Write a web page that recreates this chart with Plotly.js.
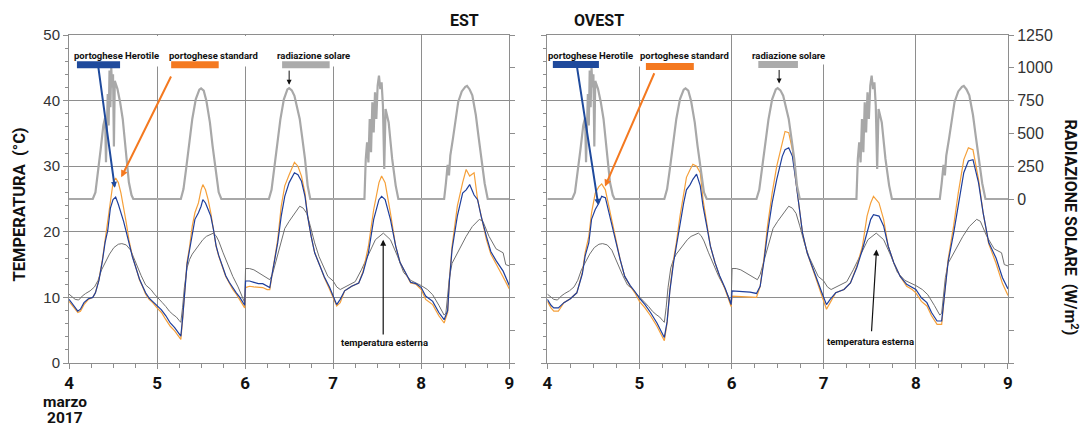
<!DOCTYPE html>
<html>
<head>
<meta charset="utf-8">
<script src="https://cdn.plot.ly/plotly-3.0.1.min.js"></script>
<style>
  html, body { margin: 0; padding: 0; background: #ffffff; }
  #chart { width: 1083px; height: 427px; }
</style>
</head>
<body>
<div id="chart"></div>
<script>
// ---------- DATA ----------
const dayTicks = [4, 5, 6, 7, 8, 9];
const dayLabels = ['4', '5', '6', '7', '8', '9'];
const tempTicks = [0, 10, 20, 30, 40, 50];
const radTicks = [-1250, -1000, -750, -500, -250, 0, 250, 500, 750, 1000, 1250];
const radLabels = ['', '', '', '', '', '0', '250', '500', '750', '1000', '1250'];

// solar radiation (W/m2), same measurement for both panels
const radDays = [4.00,4.27,4.30,4.33,4.36,4.39,4.41,4.42,4.43,4.44,4.45,4.46,4.47,4.48,4.49,4.50,4.51,4.52,4.55,4.58,4.61,4.63,4.65,4.68,4.71,4.73,
  5.27,5.30,5.33,5.37,5.40,5.44,5.48,5.50,5.53,5.56,5.60,5.63,5.67,5.70,5.73,
  6.27,6.30,6.33,6.37,6.40,6.44,6.48,6.50,6.53,6.56,6.59,6.62,6.65,6.68,6.71,6.74,
  7.355,7.37,7.385,7.40,7.415,7.43,7.445,7.46,7.475,7.49,7.505,7.52,7.535,7.55,7.565,7.58,7.595,7.63,7.67,7.71,7.74,
  8.26,8.28,8.30,8.315,8.33,8.36,8.39,8.42,8.46,8.50,8.52,8.55,8.58,8.62,8.65,8.69,8.72,8.755,9.00];
const radiation = [0,0,50,200,380,560,620,280,650,800,560,980,700,1000,850,950,400,900,840,740,610,480,356,127,30,0,
  0,76,229,432,610,762,833,843,826,749,584,406,203,51,0,
  0,70,225,430,605,760,835,845,828,787,700,610,460,305,102,0,
  0,305,432,279,610,356,737,508,813,610,864,940,838,889,711,229,686,584,305,102,0,
  0,120,260,180,330,460,620,740,820,855,862,835,790,640,480,290,120,0,0];

// outside temperature (°C), same for both panels
const extDays = [4.00,4.03,4.07,4.11,4.15,4.19,4.24,4.29,4.33,4.37,4.41,4.46,4.51,4.56,4.60,4.65,4.70,4.73,4.76,4.82,4.87,4.93,4.97,
  5.00,5.06,5.10,5.14,5.18,5.22,5.25,5.27,5.29,5.31,5.34,5.37,5.40,5.44,5.48,5.52,5.56,5.60,5.64,5.67,5.70,5.75,5.81,5.86,5.92,5.96,5.995,
  6.005,6.05,6.10,6.15,6.20,6.25,6.28,6.31,6.35,6.40,6.45,6.50,6.56,6.62,6.66,6.70,6.74,6.79,6.84,6.89,6.94,
  7.00,7.04,7.08,7.15,7.25,7.32,7.40,7.48,7.57,7.65,7.73,7.80,7.88,7.95,
  8.00,8.07,8.13,8.20,8.26,8.28,8.32,8.35,8.43,8.51,8.58,8.66,8.70,8.77,8.85,8.93,8.96,9.00];
const extTemp = [10.5,10.2,9.7,9.6,10.2,10.6,11.0,11.6,12.6,14.2,15.3,16.6,17.6,18.1,18.2,18.0,17.2,16.2,15.2,13.3,11.9,11.2,10.5,
  10.1,9.2,8.6,7.9,7.4,7.0,6.5,6.2,8.5,11.5,14.5,15.8,16.6,17.4,18.2,18.8,19.3,19.6,19.8,19.4,18.6,16.8,14.8,13.2,11.6,10.2,9.2,
  14.4,14.4,14.2,13.8,13.4,12.9,12.7,13.5,15.5,18.0,20.5,21.6,22.8,23.9,23.6,22.8,20.9,18.3,16.2,14.8,13.2,
  12.5,11.6,11.2,11.7,12.4,14.2,16.6,18.8,19.8,18.8,16.3,13.8,12.6,12.2,
  11.8,11.2,10.4,8.8,7.3,7.6,13.0,15.2,17.3,19.3,20.8,21.9,21.6,19.3,17.4,16.8,15.0,14.8];

// EST panel
const estDays = [4.00,4.06,4.10,4.13,4.17,4.22,4.27,4.30,4.34,4.38,4.41,4.44,4.47,4.50,4.53,4.56,4.59,4.62,4.65,4.68,4.72,4.76,4.80,4.84,4.87,4.91,4.95,
  5.00,5.05,5.10,5.15,5.20,5.25,5.27,5.29,5.31,5.34,5.37,5.40,5.43,5.47,5.50,5.52,5.55,5.58,5.61,5.64,5.67,5.70,5.74,5.78,5.82,5.86,5.90,5.94,5.97,5.995,
  6.005,6.05,6.10,6.15,6.20,6.25,6.28,6.31,6.34,6.37,6.41,6.45,6.50,6.56,6.60,6.64,6.68,6.71,6.75,6.79,6.85,6.90,6.96,
  7.00,7.04,7.08,7.13,7.21,7.29,7.34,7.40,7.46,7.52,7.55,7.59,7.65,7.71,7.76,7.82,7.88,7.94,
  8.00,8.05,8.13,8.20,8.26,8.30,8.32,8.35,8.41,8.47,8.51,8.55,8.60,8.64,8.68,8.74,8.79,8.85,8.93,9.00];
const estStandard = [9.4,8.4,7.7,7.9,8.9,9.7,10.0,10.7,12.7,15.8,18.8,21.9,24.9,27.5,28.2,27.5,25.9,23.9,21.4,18.8,16.3,14.5,12.7,11.5,10.5,9.7,9.2,
  8.4,7.7,6.6,5.6,4.9,3.9,3.6,6.6,10.7,15.3,17.8,20.9,22.9,24.4,26.4,27.2,26.4,24.9,22.9,20.4,17.8,16.3,14.8,13.2,12.2,11.2,10.5,9.7,8.9,8.4,
  11.5,11.7,11.6,11.5,11.5,11.2,11.2,13.8,16.5,18.8,23.9,27.0,28.7,30.6,30.0,28.5,25.9,22.4,19.3,16.8,14.8,13.0,11.2,
  10.0,8.7,9.2,11.0,11.7,12.2,14.0,17.8,23.4,27.5,28.5,27.5,22.9,17.8,15.3,13.8,12.2,12.0,
  11.2,9.7,8.9,7.2,6.1,7.7,12.7,17.8,23.9,27.5,29.5,28.5,29.0,24.9,22.4,18.8,16.6,15.0,13.1,11.3];
const estHerotile = [9.7,8.7,7.9,8.2,9.2,9.8,10.0,10.7,12.6,15.6,18.4,20.2,23.6,24.9,25.3,24.2,23.0,21.6,20.0,18.2,16.2,14.5,12.8,11.6,10.7,9.9,9.4,
  8.7,8.1,7.2,6.1,5.4,4.4,4.1,6.8,10.7,15.0,17.3,19.8,21.9,22.9,23.9,24.9,24.4,23.4,22.4,20.4,17.9,16.4,14.9,13.3,12.3,11.4,10.7,10.0,9.3,8.8,
  12.5,12.5,12.3,12.1,12.1,11.7,11.5,13.8,16.3,18.3,22.4,25.4,27.5,29.0,28.7,27.7,25.4,22.4,19.3,16.8,14.8,13.1,11.5,
  10.2,8.9,9.7,11.0,11.7,12.2,13.8,16.8,21.9,24.9,25.4,24.9,21.9,17.8,15.3,13.8,12.3,12.1,
  11.5,10.2,9.4,7.7,6.6,8.0,12.5,17.3,22.4,25.9,26.4,27.2,25.6,24.9,22.4,19.3,17.0,15.6,14.0,11.8];

// OVEST panel
const ovestDays = [4.00,4.04,4.07,4.12,4.18,4.25,4.32,4.38,4.41,4.45,4.48,4.52,4.56,4.59,4.63,4.66,4.70,4.74,4.79,4.84,4.90,4.95,
  5.00,5.06,5.12,5.19,5.24,5.27,5.30,5.33,5.37,5.40,5.44,5.48,5.51,5.55,5.58,5.62,5.66,5.69,5.73,5.77,5.82,5.87,5.93,5.97,5.995,
  6.005,6.09,6.20,6.27,6.31,6.35,6.39,6.44,6.49,6.55,6.58,6.62,6.66,6.69,6.73,6.77,6.82,6.87,6.93,6.98,
  7.03,7.07,7.13,7.22,7.29,7.36,7.42,7.47,7.51,7.54,7.60,7.65,7.70,7.76,7.83,7.90,7.96,
  8.00,8.06,8.12,8.17,8.23,8.28,8.32,8.35,8.41,8.46,8.52,8.57,8.62,8.68,8.73,8.79,8.87,8.94,9.00];
const ovestStandard = [9.4,8.4,7.9,7.9,9.2,9.8,10.7,13.8,16.8,19.3,22.9,25.9,26.9,27.3,26.4,24.4,21.9,18.8,15.8,13.2,11.7,10.7,
  9.4,8.4,7.2,5.6,4.1,3.4,6.1,11.2,15.8,18.3,22.4,25.9,28.3,29.5,30.3,30.0,29.0,24.9,21.4,17.8,15.3,13.2,11.2,9.4,8.6,
  10.2,10.1,10.0,10.0,11.7,15.8,20.9,25.9,30.0,33.6,35.3,35.1,32.5,28.5,23.9,19.8,16.8,14.8,12.2,10.2,
  8.2,9.2,10.7,11.2,12.2,14.8,17.8,22.4,24.4,25.4,24.4,21.9,17.8,15.3,13.2,11.7,11.2,
  10.7,9.4,8.7,7.2,5.9,5.9,11.7,15.8,20.9,25.9,31.0,32.8,32.5,28.0,22.9,18.2,15.2,12.1,10.3];
const ovestHerotile = [9.7,8.8,8.4,8.4,9.2,9.8,10.7,13.6,16.3,18.3,21.9,23.4,24.4,25.4,25.2,23.4,21.4,18.8,15.8,13.2,11.8,10.9,
  9.9,8.9,7.7,6.1,4.6,3.9,6.3,11.0,15.3,17.8,21.4,24.4,26.4,27.2,28.0,28.8,27.0,23.9,20.9,17.8,15.3,13.3,11.4,9.95,8.9,
  11.0,10.9,10.8,10.6,11.7,15.4,19.8,24.4,28.0,31.5,32.5,32.8,31.5,28.5,23.9,19.8,16.8,14.8,12.7,10.7,
  8.9,9.7,10.7,11.2,12.2,14.6,17.3,19.8,21.9,22.6,22.4,20.9,17.8,15.3,13.2,12.0,11.5,
  11.2,9.95,9.2,7.7,6.4,6.4,11.5,15.4,19.8,23.9,29.0,30.8,31.0,27.5,22.9,18.4,16.0,13.0,11.3];

// ---------- STYLE ----------
const BOLD = 'Roboto, "Liberation Sans", Arial, sans-serif';
const REG = '"Liberation Sans", Arial, "DejaVu Sans", sans-serif';
const GRID = '#8e8e8e';
const C_ORANGE = '#f5a03a';
const C_BLUE = '#1f3f9c';
const C_EXT = '#707070';
const C_RAD = '#a8a8a8';
const L_BLUE = '#1f4a9c';
const L_ORANGE = '#f47920';
const L_GRAY = '#ababab';

function line(x, y, xa, ya, color, width) {
  return { x: x, y: y, xaxis: xa, yaxis: ya, type: 'scatter', mode: 'lines',
           line: { color: color, width: width }, hoverinfo: 'skip', showlegend: false };
}

const traces = [
  line(radDays, radiation, 'x', 'y2', C_RAD, 2.2),
  line(extDays, extTemp, 'x', 'y', C_EXT, 1),
  line(estDays, estStandard, 'x', 'y', C_ORANGE, 1.2),
  line(estDays, estHerotile, 'x', 'y', C_BLUE, 1.2),
  line(radDays, radiation, 'x2', 'y4', C_RAD, 2.2),
  line(extDays, extTemp, 'x2', 'y3', C_EXT, 1),
  line(ovestDays, ovestStandard, 'x2', 'y3', C_ORANGE, 1.2),
  line(ovestDays, ovestHerotile, 'x2', 'y3', C_BLUE, 1.2)
];

function xAxis(domain, anchor) {
  return {
    domain: domain, anchor: anchor, range: [4, 9],
    tickvals: dayTicks, ticktext: dayLabels,
    showgrid: true, gridcolor: GRID, gridwidth: 1,
    showline: true, linecolor: GRID, linewidth: 1, mirror: true,
    ticks: 'outside', ticklen: 5, tickcolor: GRID,
    minor: { dtick: 0.25, tick0: 4, ticks: 'outside', ticklen: 4, tickcolor: GRID, showgrid: false },
    tickfont: { family: BOLD, size: 17, color: '#111', weight: 700 },
    zeroline: false, fixedrange: true
  };
}
function tempAxis(anchor, labels) {
  return {
    anchor: anchor, domain: [0, 1], range: [0, 50],
    tickvals: tempTicks, showticklabels: labels,
    showgrid: true, gridcolor: GRID, gridwidth: 1,
    showline: true, linecolor: GRID, linewidth: 1,
    ticks: 'outside', ticklen: 5, tickcolor: GRID,
    minor: { dtick: 2, tick0: 0, ticks: 'outside', ticklen: 3, tickcolor: GRID, showgrid: false },
    tickfont: { family: REG, size: 15, color: '#333' },
    zeroline: false, fixedrange: true
  };
}
function radAxis(anchor, overlay, labels) {
  return {
    anchor: anchor, overlaying: overlay, side: 'right', range: [-1250, 1250],
    tickvals: radTicks, ticktext: radLabels, showticklabels: labels,
    showgrid: false, showline: true, linecolor: GRID, linewidth: 1,
    ticks: 'outside', ticklen: 5, tickcolor: GRID,
    tickfont: { family: REG, size: 16, color: '#333' },
    zeroline: false, fixedrange: true
  };
}

const shapes = [
  { type: 'rect', xref: 'x', yref: 'y', x0: 4.005, x1: 7.12, y0: 45.2, y1: 49.85, fillcolor: '#ffffff', line: { width: 0 }, layer: 'between' },
  { type: 'rect', xref: 'x2', yref: 'y3', x0: 4.005, x1: 5.9, y0: 45.2, y1: 49.85, fillcolor: '#ffffff', line: { width: 0 }, layer: 'between' },
  { type: 'rect', xref: 'x2', yref: 'y3', x0: 6.1, x1: 7.12, y0: 45.5, y1: 49.85, fillcolor: '#ffffff', line: { width: 0 }, layer: 'between' },
  { type: 'line', xref: 'x', yref: 'y', x0: 4.09, x1: 4.58, y0: 45.45, y1: 45.45, line: { color: L_BLUE, width: 7 } },
  { type: 'line', xref: 'x', yref: 'y', x0: 5.16, x1: 5.70, y0: 45.45, y1: 45.45, line: { color: L_ORANGE, width: 7 } },
  { type: 'line', xref: 'x', yref: 'y', x0: 6.42, x1: 6.96, y0: 45.45, y1: 45.45, line: { color: L_GRAY, width: 7 } },
  { type: 'line', xref: 'x2', yref: 'y3', x0: 4.06, x1: 4.56, y0: 45.5, y1: 45.5, line: { color: L_BLUE, width: 7 } },
  { type: 'line', xref: 'x2', yref: 'y3', x0: 5.07, x1: 5.59, y0: 45.2, y1: 45.2, line: { color: L_ORANGE, width: 7 } },
  { type: 'line', xref: 'x2', yref: 'y3', x0: 6.29, x1: 6.72, y0: 45.5, y1: 45.5, line: { color: L_GRAY, width: 7 } }
];

const lblFont = { family: BOLD, size: 9.5, color: '#111', weight: 700 };
const bigFont = { family: BOLD, size: 16.5, color: '#111', weight: 700 };
const midFont = { family: BOLD, size: 16, color: '#111', weight: 700 };

function txt(x, y, xr, yr, text, font, extra) {
  return Object.assign({ x: x, y: y, xref: xr, yref: yr, text: text, showarrow: false, font: font,
                         xanchor: 'center', yanchor: 'middle' }, extra || {});
}
function arrow(x, y, ax, ay, xr, yr, color, width, head, size) {
  return { x: x, y: y, ax: ax, ay: ay, xref: xr, yref: yr, axref: xr, ayref: yr, text: '',
           showarrow: true, arrowcolor: color, arrowwidth: width, arrowhead: head, arrowsize: size };
}

const annotations = [
  txt(4.537, 46.95, 'x', 'y', 'portoghese Herotile', lblFont),
  txt(5.639, 46.95, 'x', 'y', 'portoghese standard', lblFont),
  txt(6.781, 46.95, 'x', 'y', 'radiazione solare', lblFont),
  txt(4.474, 46.85, 'x2', 'y3', 'portoghese Herotile', lblFont),
  txt(5.493, 46.85, 'x2', 'y3', 'portoghese standard', lblFont),
  txt(6.621, 46.85, 'x2', 'y3', 'radiazione solare', lblFont),
  arrow(4.52, 26.7, 4.33, 45.4, 'x', 'y', L_BLUE, 2, 2, 0.6),
  arrow(4.593, 28.3, 5.167, 43.9, 'x', 'y', L_ORANGE, 2, 2, 0.7),
  arrow(6.5, 42.4, 6.5, 44.8, 'x', 'y', '#111', 1, 2, 1),
  arrow(7.568, 18.8, 7.568, 4.1, 'x', 'y', '#111', 1.2, 2, 1),
  txt(7.583, 3.2, 'x', 'y', 'temperatura esterna', lblFont),
  arrow(4.553, 24.1, 4.319, 45.4, 'x2', 'y3', L_BLUE, 2, 2, 0.6),
  arrow(4.626, 26.9, 5.168, 44.4, 'x2', 'y3', L_ORANGE, 2, 2, 0.7),
  arrow(6.516, 42.6, 6.516, 44.9, 'x2', 'y3', '#111', 1, 2, 1),
  arrow(7.573, 17.3, 7.518, 4.6, 'x2', 'y3', '#111', 1.2, 2, 1),
  txt(7.509, 3.3, 'x2', 'y3', 'temperatura esterna', lblFont),
  txt(0.4207, 1.0427, 'paper', 'paper', 'EST', midFont),
  txt(0.5644, 1.0427, 'paper', 'paper', 'OVEST', midFont),
  txt(-0.0522, 0.483, 'paper', 'paper', 'TEMPERATURA  (°C)', bigFont, { textangle: -90 }),
  txt(1.0665, 0.412, 'paper', 'paper', 'RADIAZIONE SOLARE  (W/m<sup>2</sup>)', { family: BOLD, size: 16, color: '#111', weight: 700 }, { textangle: 90 }),
  txt(-0.0043, -0.1180, 'paper', 'paper', 'marzo', { family: BOLD, size: 15.5, color: '#111', weight: 700 }),
  txt(-0.0043, -0.1680, 'paper', 'paper', '2017', { family: BOLD, size: 15.5, color: '#111', weight: 700 })
];

const layout = {
  width: 1083, height: 427,
  margin: { l: 69, r: 75, t: 35, b: 64, pad: 0 },
  paper_bgcolor: '#ffffff', plot_bgcolor: '#ffffff',
  showlegend: false, hovermode: false,
  xaxis: xAxis([0, 0.4689], 'y'),
  xaxis2: xAxis([0.5094, 1], 'y3'),
  yaxis: tempAxis('x', true),
  yaxis2: radAxis('x', 'y', false),
  yaxis3: tempAxis('x2', false),
  yaxis4: radAxis('x2', 'y3', true),
  shapes: shapes,
  annotations: annotations
};

Plotly.newPlot('chart', traces, layout, { staticPlot: true, displayModeBar: false });
</script>
</body>
</html>
